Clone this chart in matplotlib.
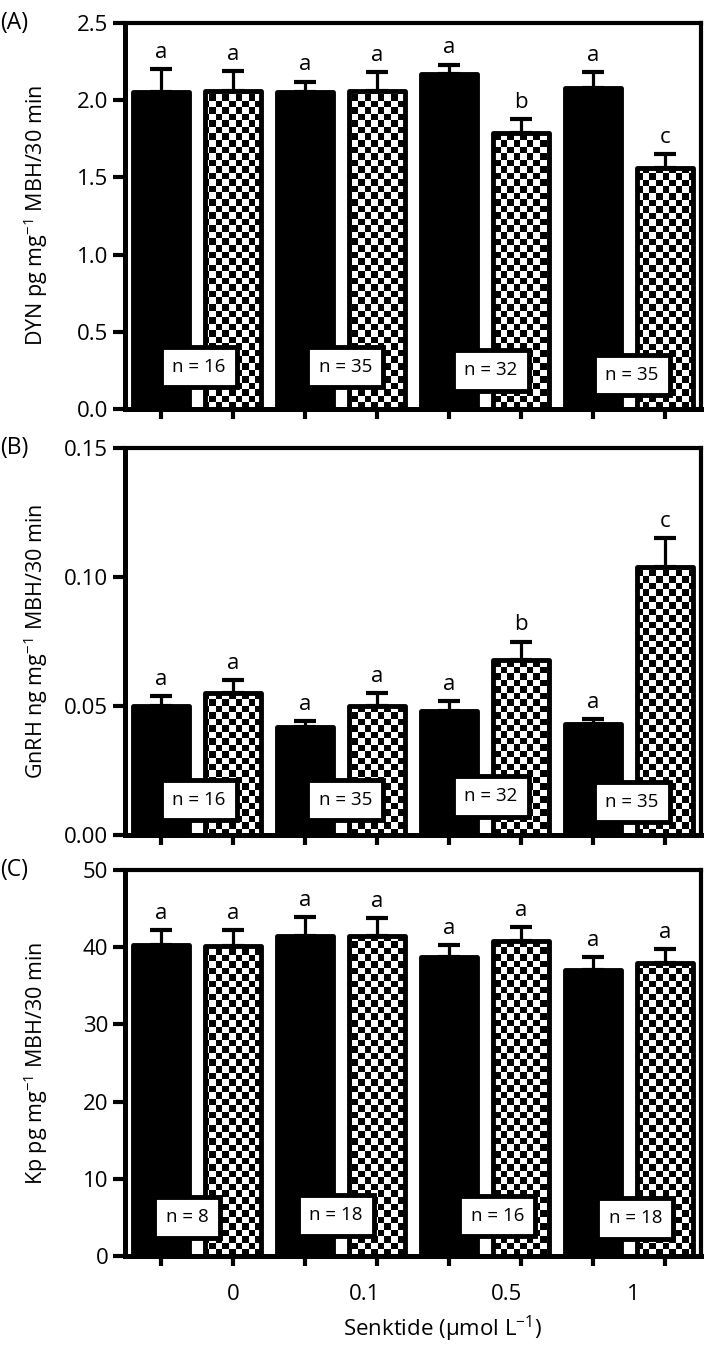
import numpy as np
import matplotlib
matplotlib.use('Agg')
from matplotlib import pyplot as plt
from matplotlib import transforms

plt.rcParams['font.family'] = ['Open Sans', 'DejaVu Sans']
plt.rcParams['mathtext.fontset'] = 'custom'
plt.rcParams['mathtext.rm'] = 'Open Sans'
plt.rcParams['mathtext.it'] = 'Open Sans:italic'

# Data: 8 bars per panel, solid / checker alternating per senktide dose
doses = ['0', '0.1', '0.5', '1']

dyn_mean = [2.05, 2.06, 2.05, 2.06, 2.17, 1.79, 2.08, 1.56]
dyn_err = [0.15, 0.13, 0.07, 0.12, 0.06, 0.09, 0.10, 0.09]
dyn_letters = ['a', 'a', 'a', 'a', 'a', 'b', 'a', 'c']
dyn_n = [16, 35, 32, 35]

gnrh_mean = [0.050, 0.055, 0.042, 0.050, 0.048, 0.068, 0.043, 0.104]
gnrh_err = [0.004, 0.005, 0.002, 0.005, 0.004, 0.007, 0.002, 0.011]
gnrh_letters = ['a', 'a', 'a', 'a', 'a', 'b', 'a', 'c']
gnrh_n = [16, 35, 32, 35]

kp_mean = [40.3, 40.1, 41.5, 41.5, 38.7, 40.8, 37.0, 37.9]
kp_err = [1.9, 2.1, 2.4, 2.3, 1.6, 1.8, 1.7, 1.9]
kp_letters = ['a', 'a', 'a', 'a', 'a', 'a', 'a', 'a']
kp_n = [8, 18, 16, 18]


def draw_panel(ax, mean, err, letters, n_vals, ymax, ystep, fmt, ylabel, tag,
               n_x, n_y):
    x = np.arange(len(mean))
    width = 0.78
    ax.set_xlim(-0.5, len(mean) - 0.5)
    ax.set_ylim(0, ymax)

    # error bars (upper only), under the bars so the lower cap is hidden
    ax.errorbar(x, mean, yerr=[np.zeros(len(err)), err], fmt='none',
                ecolor='black', elinewidth=2.3, capsize=8, capthick=3,
                zorder=1.5)

    solid = x % 2 == 0
    ax.bar(x[solid], np.array(mean)[solid], width, color='black',
           edgecolor='black', linewidth=3.5, joinstyle='round', zorder=3)
    checker_bars = ax.bar(x[~solid], np.array(mean)[~solid], width,
                          facecolor='none', edgecolor='black', linewidth=3.5,
                          joinstyle='round', zorder=3)

    # checkerboard fill, clipped to each checker bar
    fig = ax.figure
    bb = ax.get_position()
    w_px = bb.width * fig.get_figwidth() * fig.dpi
    h_px = bb.height * fig.get_figheight() * fig.dpi
    cell = 6.5
    ncol, nrow = int(round(w_px / cell)), int(round(h_px / cell))
    board = np.add.outer(np.arange(nrow), np.arange(ncol)) % 2
    for patch in checker_bars.patches:
        im = ax.imshow(board, cmap='gray', vmin=0, vmax=1,
                       extent=(-0.5, len(mean) - 0.5, 0, ymax),
                       aspect='auto', interpolation='nearest', zorder=2)
        im.set_clip_path(patch)
    ax.set_xlim(-0.5, len(mean) - 0.5)
    ax.set_ylim(0, ymax)

    # significance letters
    for xi, m, e, lt in zip(x, mean, err, letters):
        ax.annotate(lt, (xi, m + e), xytext=(0, 8), textcoords='offset points',
                    ha='center', va='baseline', fontsize=16)

    # n boxes
    trans = transforms.blended_transform_factory(ax.transData, ax.transAxes)
    for nx, ny, nv in zip(n_x, n_y, n_vals):
        ax.text(nx, ny, f'n = {nv}', transform=trans, ha='center',
                va='center', fontsize=13.5, zorder=5,
                bbox=dict(boxstyle='square,pad=0.6', fc='white', ec='black',
                          lw=3.5))

    ticks = np.arange(0, ymax + ystep / 2, ystep)
    ax.set_yticks(ticks)
    ax.set_yticklabels([fmt.format(v) for v in ticks])
    ax.set_xticks(x)
    ax.set_xticklabels([])
    ax.tick_params(axis='y', direction='out', length=9, width=3, labelsize=16,
                   pad=3)
    ax.tick_params(axis='x', which='major', direction='out', length=7, width=3)
    for side in ['left', 'bottom']:
        ax.spines[side].set_linewidth(3.6)
    for side in ['top', 'right']:
        ax.spines[side].set_linewidth(3.0)

    ax.set_ylabel(ylabel, fontsize=15.5)
    ax.yaxis.set_label_coords(-0.13, 0.5)
    ax.text(-0.217, 1.0, tag, transform=ax.transAxes, fontsize=16.5,
            ha='left', va='center')


fig = plt.figure(figsize=(7.09, 13.47), dpi=100)
ax_a = fig.add_axes([0.1763, 0.6964, 0.8124, 0.2866])
ax_b = fig.add_axes([0.1763, 0.3801, 0.8124, 0.2873])
ax_c = fig.add_axes([0.1763, 0.0676, 0.8124, 0.2866])

draw_panel(ax_a, dyn_mean, dyn_err, dyn_letters, dyn_n, 2.5, 0.5, '{:.1f}',
           'DYN pg mg$^{-1}$ MBH/30 min', '(A)',
           [0.53, 2.56, 4.58, 6.54], [0.109, 0.109, 0.10, 0.088])
draw_panel(ax_b, gnrh_mean, gnrh_err, gnrh_letters, gnrh_n, 0.15, 0.05,
           '{:.2f}', 'GnRH ng mg$^{-1}$ MBH/30 min', '(B)',
           [0.53, 2.56, 4.58, 6.54], [0.09, 0.09, 0.10, 0.085])
draw_panel(ax_c, kp_mean, kp_err, kp_letters, kp_n, 50, 10, '{:.0f}',
           'Kp pg mg$^{-1}$ MBH/30 min', '(C)',
           [0.36, 2.43, 4.67, 6.59], [0.10, 0.105, 0.103, 0.097])

# dose labels sit between the bar pairs on the bottom panel
# (minor ticks, nudged so the one at x=1 is not merged with a major tick)
ax_c.set_xticks([1.001, 2.83, 4.8, 6.56], minor=True)
ax_c.set_xticklabels(doses, minor=True)
ax_c.tick_params(axis='x', which='minor', length=0, labelsize=16, pad=20)
ax_c.set_xlabel('Senktide (µmol L$^{-1}$)', fontsize=16)
ax_c.xaxis.set_label_coords(0.552, -0.15)

fig.savefig('out.png', dpi=100)
